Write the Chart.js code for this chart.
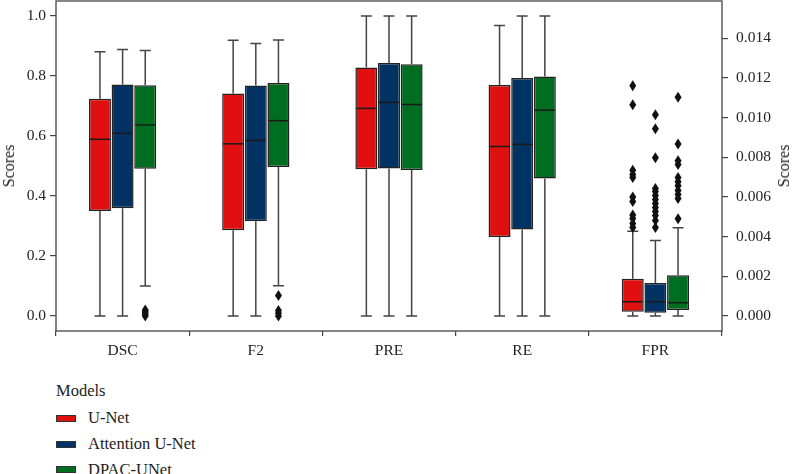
<!DOCTYPE html>
<html><head><meta charset="utf-8">
<script src="https://cdn.jsdelivr.net/npm/chart.js@4.4.1/dist/chart.umd.min.js"></script>
<style>
html,body{margin:0;padding:0;background:#fff;}
#wrap{position:relative;width:793px;height:474px;overflow:hidden;font-family:'Liberation Serif',serif;color:#222;}
canvas{position:absolute;left:0;top:0;}
.ytitle{position:absolute;font-size:16px;line-height:18px;transform:translate(-50%,-50%) rotate(-90deg);white-space:nowrap;}
.leg{position:absolute;font-size:16.5px;line-height:18px;white-space:nowrap;}
.patch{position:absolute;width:20px;height:7px;border:1px solid #333;box-sizing:border-box;}
</style></head>
<body><div id="wrap"><canvas id="c" width="793" height="365"></canvas></div>
<script>
const categories = ['DSC', 'F2', 'PRE', 'RE', 'FPR'];
const rightAxisCategories = ['FPR'];
const models = ['U-Net', 'Attention U-Net', 'DPAC-UNet'];
const modelColors = ['#e01010', '#003264', '#006e20'];
const leftTicks = [0, 0.2, 0.4, 0.6, 0.8, 1.0];
const rightTicks = [0, 0.002, 0.004, 0.006, 0.008, 0.010, 0.012, 0.014];

// U-Net
const unetLow = [0, 0, 0, 0, 0];
const unetQ1 = [0.350, 0.286, 0.489, 0.263, 0.00022];
const unetMed = [0.589, 0.574, 0.692, 0.565, 0.00072];
const unetQ3 = [0.724, 0.742, 0.828, 0.770, 0.00188];
const unetHigh = [0.881, 0.919, 1.0, 0.968, 0.00427];
const unetOut = [[], [], [], [], [0.0116, 0.01065, 0.00735, 0.00713, 0.00698, 0.0060, 0.00577, 0.00509, 0.00491, 0.00466, 0.00446]];

// Attention U-Net
const attLow = [0, 0, 0, 0, 0];
const attQ1 = [0.359, 0.316, 0.492, 0.288, 0.00017];
const attMed = [0.609, 0.585, 0.712, 0.572, 0.00072];
const attQ3 = [0.772, 0.768, 0.843, 0.793, 0.00166];
const attHigh = [0.888, 0.908, 1.0, 1.0, 0.00381];
const attOut = [[], [], [], [], [0.01014, 0.00944, 0.00797, 0.00642, 0.00627, 0.00607, 0.00587, 0.00567, 0.00547, 0.00527, 0.00506, 0.00481, 0.00446]];

// DPAC-UNet
const dpacLow = [0.100, 0.101, 0, 0, 0];
const dpacQ1 = [0.491, 0.497, 0.487, 0.458, 0.0003];
const dpacMed = [0.637, 0.651, 0.705, 0.686, 0.00067];
const dpacQ3 = [0.769, 0.777, 0.839, 0.798, 0.00206];
const dpacHigh = [0.885, 0.920, 1.0, 1.0, 0.00445];
const dpacOut = [[0.02, 0.013, 0.007, 0], [0.068, 0.018, 0.009, 0], [], [], [0.01103, 0.00867, 0.00783, 0.00763, 0.00698, 0.00677, 0.00657, 0.00632, 0.00612, 0.00592, 0.0049]];

const stats = [
  {low: unetLow, q1: unetQ1, med: unetMed, q3: unetQ3, high: unetHigh, out: unetOut},
  {low: attLow, q1: attQ1, med: attMed, q3: attQ3, high: attHigh, out: attOut},
  {low: dpacLow, q1: dpacQ1, med: dpacMed, q3: dpacQ3, high: dpacHigh, out: dpacOut}
];

const rightScaleFactor = 0.01512;
const FONT = {family: "'Liberation Serif', serif", size: 15.5};
const INK = '#222';

const datasets = [];
[false, true].forEach(right => {
  models.forEach((m, mi) => {
    const s = stats[mi];
    datasets.push({
      label: m,
      yAxisID: right ? 'y2' : 'y',
      stats: s,
      data: categories.map((c, i) => (rightAxisCategories.includes(c) === right) ? [s.q1[i], s.q3[i]] : null),
      backgroundColor: modelColors[mi],
      borderColor: '#222',
      borderWidth: 1.5,
      borderSkipped: false,
      categoryPercentage: 0.51,
      barPercentage: 0.97,
      skipNull: true
    });
  });
});

const boxPlugin = {
  id: 'boxParts',
  afterDatasetsDraw(chart) {
    const ctx = chart.ctx;
    chart.data.datasets.forEach((ds, di) => {
      const meta = chart.getDatasetMeta(di);
      const ys = chart.scales[ds.yAxisID];
      const s = ds.stats;
      meta.data.forEach((el, i) => {
        if (ds.data[i] == null) return;
        const x = el.x, w = el.width;
        const py = v => ys.getPixelForValue(v);
        ctx.save();
        ctx.strokeStyle = '#444';
        ctx.lineWidth = 1.5;
        ctx.beginPath();
        ctx.moveTo(x, py(s.q3[i])); ctx.lineTo(x, py(s.high[i]));
        ctx.moveTo(x, py(s.q1[i])); ctx.lineTo(x, py(s.low[i]));
        ctx.moveTo(x - w / 4, py(s.high[i])); ctx.lineTo(x + w / 4, py(s.high[i]));
        ctx.moveTo(x - w / 4, py(s.low[i])); ctx.lineTo(x + w / 4, py(s.low[i]));
        ctx.stroke();
        ctx.strokeStyle = '#1a1a1a';
        ctx.beginPath();
        ctx.moveTo(x - w / 2 + 1, py(s.med[i])); ctx.lineTo(x + w / 2 - 1, py(s.med[i]));
        ctx.stroke();
        ctx.fillStyle = '#111';
        s.out[i].forEach(v => {
          const y = py(v);
          ctx.beginPath();
          ctx.moveTo(x, y - 5.5); ctx.lineTo(x + 3.5, y); ctx.lineTo(x, y + 5.5); ctx.lineTo(x - 3.5, y);
          ctx.closePath(); ctx.fill();
        });
        ctx.restore();
      });
    });
    const a = chart.chartArea;
    ctx.save();
    ctx.strokeStyle = '#444';
    ctx.lineWidth = 1.3;
    ctx.strokeRect(a.left, a.top, a.right - a.left, a.bottom - a.top);
    ctx.restore();
  }
};

const gridOpts = len => ({display: true, drawOnChartArea: false, drawTicks: true, tickLength: len, color: '#444', lineWidth: 1.2});
const noPad = s => { s.paddingTop = 0; s.paddingBottom = 0; s.paddingLeft = 0; s.paddingRight = 0; };

new Chart(document.getElementById('c'), {
  type: 'bar',
  data: {labels: categories, datasets},
  options: {
    responsive: false,
    animation: false,
    devicePixelRatio: 1,
    layout: {padding: {top: 1, left: 0, right: 0, bottom: 0}},
    plugins: {legend: {display: false}, tooltip: {enabled: false}},
    scales: {
      x: {
        type: 'category', offset: true,
        grid: gridOpts(5), border: {display: false},
        ticks: {font: FONT, color: INK, padding: 6, maxRotation: 0},
        afterFit(s) { s.height = 34; noPad(s); }
      },
      y: {
        position: 'left', min: -0.05, max: 1.05,
        afterBuildTicks(s) { s.ticks = leftTicks.map(v => ({value: v})); },
        ticks: {font: FONT, color: INK, padding: 4, callback: v => Number(v).toFixed(1)},
        grid: gridOpts(6), border: {display: false},
        afterFit(s) { s.width = 56; noPad(s); }
      },
      y2: {
        position: 'right', min: -0.05 * rightScaleFactor, max: 1.05 * rightScaleFactor,
        afterBuildTicks(s) { s.ticks = rightTicks.map(v => ({value: v})); },
        ticks: {font: FONT, color: INK, padding: 8, callback: v => Number(v).toFixed(3)},
        grid: gridOpts(6), border: {display: false},
        afterFit(s) { s.width = 71; noPad(s); }
      }
    }
  },
  plugins: [boxPlugin]
});

// axis titles and legend (HTML)
const wrap = document.getElementById('wrap');
function addDiv(cls, text, left, top) {
  const d = document.createElement('div');
  d.className = cls; d.textContent = text;
  d.style.left = left + 'px'; d.style.top = top + 'px';
  wrap.appendChild(d); return d;
}
addDiv('ytitle', 'Scores', 9, 166);
addDiv('ytitle', 'Scores', 784, 166);
addDiv('leg', 'Models', 56, 382);
models.forEach((m, i) => {
  const cy = 418.3 + i * 25.7;
  const p = document.createElement('div');
  p.className = 'patch';
  p.style.left = '56px'; p.style.top = (cy - 3.5) + 'px';
  p.style.background = modelColors[i];
  wrap.appendChild(p);
  addDiv('leg', m, 88, cy - 9);
});
</script>
</body></html>
